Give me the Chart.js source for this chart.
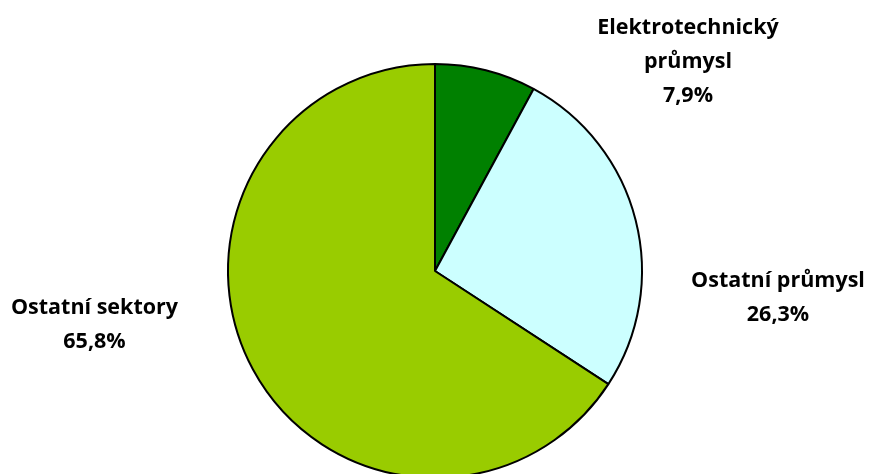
<!DOCTYPE html>
<html>
<head>
<meta charset="utf-8">
<script src="https://cdn.jsdelivr.net/npm/chart.js@4"></script>
<style>
  html, body { margin: 0; padding: 0; background: #fff; overflow: hidden; }
  #wrap { width: 871px; height: 474px; overflow: hidden; }
</style>
</head>
<body>
<div id="wrap"><canvas id="pie" width="871" height="560"></canvas></div>
<script>
// data
var categories = [['Elektrotechnický', 'průmysl'], ['Ostatní průmysl'], ['Ostatní sektory']];
var shares = [7.9, 26.3, 65.8];
var colors = ['#008000', '#CCFFFF', '#99CC00'];

// where each label sits, relative to pie centre, in radii
var labelAnchor = [[1.222, -1.014], [1.657, 0.128], [-1.645, 0.254]];

var labelPlugin = {
  id: 'sliceLabels',
  afterDraw: function(chart) {
    var ctx = chart.ctx;
    var arcs = chart.getDatasetMeta(0).data;
    ctx.save();
    ctx.font = 'bold 21.5px "Open Sans", Lato, sans-serif';
    ctx.fillStyle = '#000';
    ctx.textAlign = 'center';
    ctx.textBaseline = 'alphabetic';
    var lh = 34;
    arcs.forEach(function(arc, i) {
      var lines = categories[i].concat([shares[i].toFixed(1).replace('.', ',') + '%']);
      var cx = arc.x + labelAnchor[i][0] * arc.outerRadius;
      var cy = arc.y + labelAnchor[i][1] * arc.outerRadius;
      lines.forEach(function(t, j) {
        ctx.fillText(t, cx, cy + 7 + (j - (lines.length - 1) / 2) * lh);
      });
    });
    ctx.restore();
  }
};

var ctx = document.getElementById('pie').getContext('2d');
var myChart = new Chart(ctx, {
  type: 'pie',
  data: {
    labels: categories.map(function(c) { return c.join(' '); }),
    datasets: [{
      data: shares,
      backgroundColor: colors,
      borderColor: '#000',
      borderWidth: 2,
      offset: 0,
      hoverOffset: 0
    }]
  },
  options: {
    responsive: false,
    animation: false,
    devicePixelRatio: 1,
    layout: { padding: { left: 227, right: 228, top: 63, bottom: 81 } },
    plugins: {
      legend: { display: false },
      tooltip: { enabled: false }
    }
  },
  plugins: [labelPlugin]
});
</script>
</body>
</html>
